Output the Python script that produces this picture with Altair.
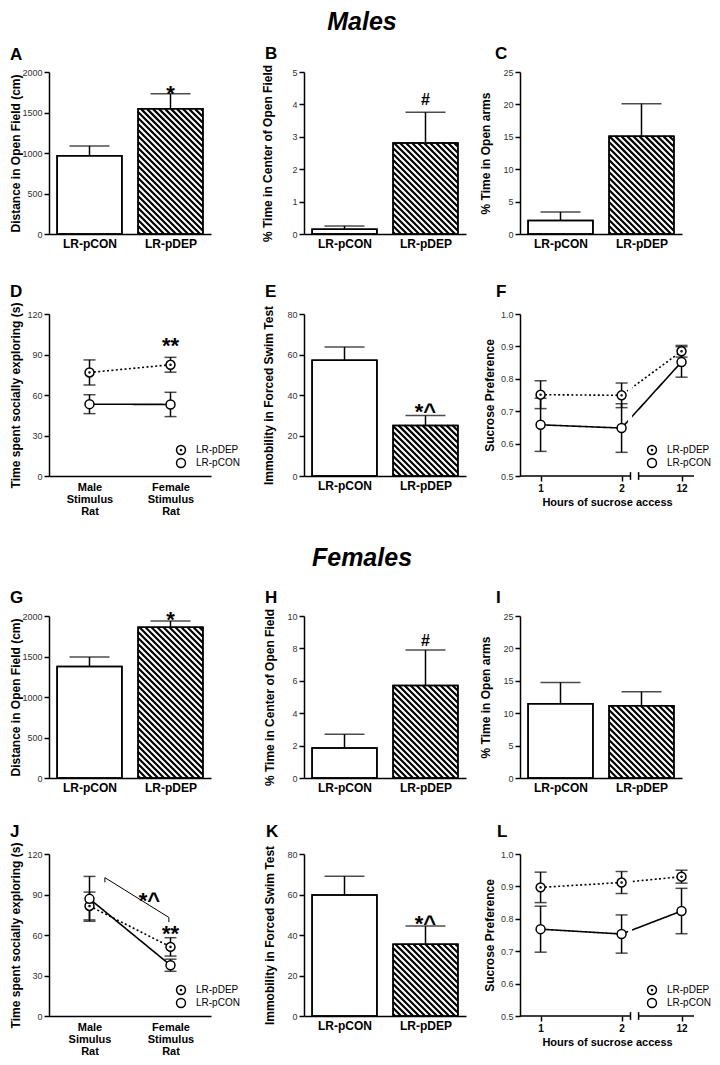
import json
import altair as alt
import pandas as pd

FONT = "Liberation Sans"

# ---------------- data ----------------
groups = ["LR-pCON", "LR-pDEP"]
legend_order = ["LR-pDEP", "LR-pCON"]

# Males
A_mean = [965, 1545]
A_sem = [122, 185]
B_mean = [0.15, 2.81]
B_sem = [0.10, 0.95]
C_mean = [2.1, 15.1]
C_sem = [1.3, 5.0]
E_mean = [57.1, 25.0]
E_sem = [6.6, 4.9]
# Females
G_mean = [1377, 1860]
G_sem = [116, 79]
H_mean = [1.85, 5.71]
H_sem = [0.85, 2.19]
I_mean = [11.45, 11.15]
I_sem = [3.3, 2.15]
K_mean = [59.8, 35.4]
K_sem = [9.2, 9.0]

# social exploration
stim_males = ["Male Stimulus Rat", "Female Stimulus Rat"]
stim_females = ["Male Simulus Rat", "Female Stimulus Rat"]
D_dep_mean = [76.7, 82.4]
D_dep_sem = [9.3, 5.5]
D_con_mean = [53.2, 53.0]
D_con_sem = [7.0, 9.0]
J_dep_mean = [81.5, 51.2]
J_dep_sem = [10.3, 6.8]
J_con_mean = [86.8, 37.6]
J_con_sem = [16.6, 4.5]
J_bracket_x = [0.69, 1.48]
J_bracket_y = [102.5, 73.0]

# sucrose preference
hours = [1, 2, 12]
F_dep_mean = [0.751, 0.749, 0.885]
F_dep_sem = [0.043, 0.038, 0.018]
F_con_mean = [0.658, 0.648, 0.852]
F_con_sem = [0.082, 0.075, 0.047]
L_dep_mean = [0.897, 0.912, 0.930]
L_dep_sem = [0.047, 0.034, 0.020]
L_con_mean = [0.768, 0.753, 0.824]
L_con_sem = [0.071, 0.059, 0.070]

# ---------------- layout constants ----------------
PW, PH = 162, 162
FW = 174
BAR_POS = [0.5, 1.5]
BAR_HALF = 0.4
HOUR_POS = {1: 1.0, 2: 2.0, 12: 2.74}
F_DOMAIN = [0.746, 2.894]
BREAK = [2.11, 2.21]
DOT = ("M1,0A1,1,0,1,1,-1,0A1,1,0,1,1,1,0Z "
       "M0.12,0A0.12,0.12,0,1,1,-0.12,0A0.12,0.12,0,1,1,0.12,0Z")
SHAPES = {"LR-pDEP": DOT, "LR-pCON": "circle"}
DASHES = {"LR-pDEP": [2, 2.4], "LR-pCON": [1, 0]}
PT_SIZE = 80
TITLE_SIZE = 12
LEG_POS = (132, 136)


def axis_y(title, ymin, ymax, step, fmt, tx):
    n = int(round((ymax - ymin) / step))
    vals = [round(ymin + i * step, 6) for i in range(n + 1)]
    return alt.Axis(title=title, values=vals, format=fmt, grid=False,
                    domainColor="black", domainWidth=1.5, tickColor="black",
                    tickWidth=1.5, tickSize=5, labelFont=FONT, labelFontSize=9,
                    labelColor="#333333", labelPadding=2, titleFont=FONT,
                    titleFontSize=TITLE_SIZE, titleFontWeight="bold", titleColor="black",
                    titleX=tx, titleBaseline="top")


def letter_layer(letter, lx, ly):
    return alt.Chart(pd.DataFrame({"t": [letter]})).mark_text(
        font=FONT, fontSize=17, fontWeight="bold", align="left",
        baseline="alphabetic", color="black"
    ).encode(text="t:N", x=alt.value(lx), y=alt.value(ly))


def sig_layer(text, x, y, dy, size, X, Y):
    df = pd.DataFrame({"t": [text], "x": [x], "y": [y]})
    return alt.Chart(df).mark_text(
        font=FONT, fontSize=size, fontWeight="bold", align="center",
        baseline="alphabetic", dy=dy, color="black"
    ).encode(text="t:N", x=X("x"), y=Y("y"))


def hatch_df(means, ymax, period=6.0):
    ux = PW / 2.0
    uy = PH / ymax
    cx = BAR_POS[1]
    m = means[1]
    xa = (cx - BAR_HALF) * ux
    xb = (cx + BAR_HALF) * ux
    t = m * uy
    rows = []
    c = xa + 2.0
    while c < xb + t:
        xs_ = max(xa, c - t)
        xe_ = min(xb, c)
        if xe_ > xs_:
            rows.append({"hx": xs_ / ux, "hx2": xe_ / ux,
                         "hy": (c - xs_) / uy, "hy2": (c - xe_) / uy})
        c += period
    return pd.DataFrame(rows)


def bar_panel(letter, means, sems, ymax, step, ytitle, tx, lx, ly, sigs):
    xs = alt.Scale(domain=[0, 2], nice=False, zero=False)
    ys = alt.Scale(domain=[0, ymax], nice=False, zero=False)
    expr = "datum.value < 1 ? '%s' : '%s'" % (groups[0], groups[1])
    xa = alt.Axis(title=None, values=BAR_POS, labelExpr=expr, ticks=False, grid=False,
                  domainColor="black", domainWidth=1.5, labelFont=FONT, labelFontSize=12,
                  labelFontWeight="bold", labelColor="black", labelPadding=4,
                  labelFlush=False)
    ya = axis_y(ytitle, 0, ymax, step, "d", tx)

    def X(f):
        return alt.X(f, type="quantitative", scale=xs, axis=xa)

    def Y(f):
        return alt.Y(f, type="quantitative", scale=ys, axis=ya)

    df = pd.DataFrame({
        "group": groups, "x": BAR_POS,
        "xl": [p - BAR_HALF for p in BAR_POS], "xr": [p + BAR_HALF for p in BAR_POS],
        "base": [0, 0], "mean": means, "hi": [m + s for m, s in zip(means, sems)],
    })
    err = alt.Chart(df).mark_rule(color="black", strokeWidth=1.5).encode(
        x=X("x"), y=Y("mean"), y2="hi:Q")
    bars = alt.Chart(df).mark_rect(fill="white", stroke="black", strokeWidth=1.5).encode(
        x=X("xl"), x2="xr:Q", y=Y("base"), y2="mean:Q")
    hat = alt.Chart(hatch_df(means, ymax)).mark_rule(
        color="black", strokeWidth=2.2, strokeCap="butt").encode(
        x=X("hx"), x2="hx2:Q", y=Y("hy"), y2="hy2:Q")
    outline = alt.Chart(df).mark_rect(fillOpacity=0, stroke="black", strokeWidth=1.5).encode(
        x=X("xl"), x2="xr:Q", y=Y("base"), y2="mean:Q")
    caps = alt.Chart(df).mark_tick(orient="horizontal", size=40, thickness=1.5,
                                   color="black").encode(x=X("x"), y=Y("hi"))
    layers = [err, bars, hat, outline, caps]
    for (txt, gi, dy, size) in sigs:
        layers.append(sig_layer(txt, BAR_POS[gi], means[gi] + sems[gi], dy, size, X, Y))
    layers.append(letter_layer(letter, lx, ly))
    return alt.layer(*layers).properties(width=PW, height=PH)


def line_df(xpos, dep_mean, dep_sem, con_mean, con_sem):
    rows = []
    for g, ms, ss in [("LR-pDEP", dep_mean, dep_sem), ("LR-pCON", con_mean, con_sem)]:
        for x, m, s in zip(xpos, ms, ss):
            rows.append({"group": g, "x": x, "mean": m, "lo": m - s, "hi": m + s})
    return pd.DataFrame(rows)


def legend_layers(sx, sy, row=13):
    out = []
    for i, g in enumerate(legend_order):
        d = pd.DataFrame({"g": [g]})
        out.append(alt.Chart(d).mark_point(
            shape=SHAPES[g], filled=True, fill="white", stroke="black", strokeWidth=1.5,
            size=PT_SIZE, opacity=1).encode(x=alt.value(sx), y=alt.value(sy + i * row)))
        out.append(alt.Chart(d).mark_text(
            font=FONT, fontSize=10, align="left", baseline="middle", color="black"
        ).encode(text="g:N", x=alt.value(sx + 15), y=alt.value(sy + i * row)))
    return out


def line_panel(letter, df, xs, xa, ys, ya, width, lx, ly, extra_before=None,
               extra_after=None):
    def X(f):
        return alt.X(f, type="quantitative", scale=xs, axis=xa)

    def Y(f):
        return alt.Y(f, type="quantitative", scale=ys, axis=ya)

    caps_df = pd.concat([df.assign(c=df["lo"]), df.assign(c=df["hi"])])
    err = alt.Chart(df).mark_rule(color="black", strokeWidth=1.5).encode(
        x=X("x"), y=Y("lo"), y2="hi:Q")
    caps = alt.Chart(caps_df).mark_tick(orient="horizontal", size=12, thickness=1.5,
                                        color="black").encode(x=X("x"), y=Y("c"))
    lines = []
    for g in legend_order:
        sub = df[df["group"] == g]
        lines.append(alt.Chart(sub).mark_line(color="black", strokeWidth=1.6,
                                              strokeDash=DASHES[g]).encode(
            x=X("x"), y=Y("mean")))
    pts = alt.Chart(df).mark_point(filled=True, fill="white", stroke="black",
                                   strokeWidth=1.5, size=PT_SIZE, opacity=1).encode(
        x=X("x"), y=Y("mean"),
        shape=alt.Shape("group:N", scale=alt.Scale(domain=legend_order,
                                                   range=[SHAPES[g] for g in legend_order]),
                        legend=None))
    layers = list(lines)
    if extra_before:
        layers += extra_before(X, Y)
    layers += [err, caps, pts]
    if extra_after:
        layers += extra_after(X, Y)
    layers += legend_layers(*LEG_POS)
    layers.append(letter_layer(letter, lx, ly))
    return alt.layer(*layers).properties(width=width, height=PH)


def social_panel(letter, stim, dep_mean, dep_sem, con_mean, con_sem, tx, lx, ly, extra):
    df = line_df(BAR_POS, dep_mean, dep_sem, con_mean, con_sem)
    parts0 = json.dumps(stim[0].split(" ")).replace('"', "'")
    parts1 = json.dumps(stim[1].split(" ")).replace('"', "'")
    xs = alt.Scale(domain=[0, 2], nice=False, zero=False)
    xa = alt.Axis(title=None, values=BAR_POS,
                  labelExpr="datum.value < 1 ? %s : %s" % (parts0, parts1),
                  ticks=False, grid=False, domainColor="black", domainWidth=1.5,
                  labelFont=FONT, labelFontSize=11, labelFontWeight="bold",
                  labelColor="black", labelPadding=5, labelLineHeight=12, labelFlush=False)
    ys = alt.Scale(domain=[0, 120], nice=False, zero=False)
    ya = axis_y("Time spent socially exploring (s)", 0, 120, 30, "d", tx)
    return line_panel(letter, df, xs, xa, ys, ya, PW, lx, ly, extra_after=extra)


def sucrose_panel(letter, dep_mean, dep_sem, con_mean, con_sem, lx, ly):
    xpos = [HOUR_POS[h] for h in hours]
    df = line_df(xpos, dep_mean, dep_sem, con_mean, con_sem)
    expr = " : ".join("datum.value < %s ? '%s'" % ((xpos[i] + xpos[i + 1]) / 2, hours[i])
                      for i in range(len(hours) - 1)) + " : '%s'" % hours[-1]
    xs = alt.Scale(domain=F_DOMAIN, nice=False, zero=False)
    xa = alt.Axis(title="Hours of sucrose access", values=xpos, labelExpr=expr,
                  domain=False, grid=False, ticks=True, tickColor="black", tickWidth=1.5,
                  tickSize=5, labelFont=FONT, labelFontSize=10, labelFontWeight="bold",
                  labelColor="black", labelPadding=2, labelFlush=False, titleFont=FONT,
                  titleFontSize=11, titleFontWeight="bold", titleColor="black",
                  titlePadding=3)
    ys = alt.Scale(domain=[0.5, 1.0], nice=False, zero=False)
    ya = axis_y("Sucrose Preference", 0.5, 1.0, 0.1, ".1f", -36)

    def before(X, Y):
        mask = pd.DataFrame({"a": [BREAK[0] - 0.03], "b": [BREAK[0] + 0.02],
                             "lo": [0.5], "hi": [1.0]})
        return [alt.Chart(mask).mark_rect(fill="white").encode(
            x=X("a"), x2="b:Q", y=Y("lo"), y2="hi:Q")]

    def after(X, Y):
        seg = pd.DataFrame({"a": [F_DOMAIN[0], BREAK[1]], "b": [BREAK[0], F_DOMAIN[1]],
                            "y": [0.5, 0.5]})
        brk = pd.DataFrame({"a": BREAK, "lo": [0.488, 0.488], "hi": [0.512, 0.512]})
        return [
            alt.Chart(seg).mark_rule(color="black", strokeWidth=1.5).encode(
                x=X("a"), x2="b:Q", y=Y("y")),
            alt.Chart(brk).mark_rule(color="black", strokeWidth=1.5).encode(
                x=X("a"), y=Y("lo"), y2="hi:Q"),
        ]

    return line_panel(letter, df, xs, xa, ys, ya, FW, lx, ly,
                      extra_before=before, extra_after=after)


def j_extra(X, Y):
    diag = pd.DataFrame({"x": [J_bracket_x[0]], "x2": [J_bracket_x[1]],
                         "y": [J_bracket_y[0]], "y2": [J_bracket_y[1]]})
    ends = pd.DataFrame({"x": J_bracket_x, "y": J_bracket_y,
                         "y2": [v - 3.5 for v in J_bracket_y]})
    return [
        alt.Chart(diag).mark_rule(color="black", strokeWidth=1).encode(
            x=X("x"), x2="x2:Q", y=Y("y"), y2="y2:Q"),
        alt.Chart(ends).mark_rule(color="black", strokeWidth=1).encode(
            x=X("x"), y=Y("y"), y2="y2:Q"),
        sig_layer("*^", 1.24, 80.0, 0, 22, X, Y),
        sig_layer("**", BAR_POS[1], J_dep_mean[1] + J_dep_sem[1], 3.5, 22, X, Y),
    ]


def d_extra(X, Y):
    return [sig_layer("**", BAR_POS[1], D_dep_mean[1] + D_dep_sem[1], -4.5, 22, X, Y)]


def spacer(w, h, text="", tx=0, ty=0, baseline="top"):
    return alt.Chart(pd.DataFrame({"t": [text]})).mark_text(
        font=FONT, fontSize=25, fontWeight="bold", fontStyle="italic", align="center",
        baseline=baseline, color="black"
    ).encode(text="t:N", x=alt.value(tx), y=alt.value(ty)).properties(width=w, height=h)


# ---------------- panels ----------------
C0T = -39  # first column: title / letter offset (page left edge)
pA = bar_panel("A", A_mean, A_sem, 2000, 500, "Distance in Open Field (cm)", C0T, C0T, -12,
               [("*", 1, 7.5, 22)])
pB = bar_panel("B", B_mean, B_sem, 5, 1, "% Time in Center of Open Field", -42, -39, -13,
               [("#", 1, -7.5, 16)])
pC = bar_panel("C", C_mean, C_sem, 25, 5, "% Time in Open arms", -40, -25, -13, [])
pD = social_panel("D", stim_males, D_dep_mean, D_dep_sem, D_con_mean, D_con_sem, C0T, C0T,
                  -17, d_extra)
pE = bar_panel("E", E_mean, E_sem, 80, 20, "Immobility in Forced  Swim Test", -41, -39, -17,
               [("*^", 1, 4, 22)])
pF = sucrose_panel("F", F_dep_mean, F_dep_sem, F_con_mean, F_con_sem, -24, -17)
pG = bar_panel("G", G_mean, G_sem, 2000, 500, "Distance in Open Field (cm)", C0T, C0T, -13,
               [("*", 1, 6, 22)])
pH = bar_panel("H", H_mean, H_sem, 10, 2, "% Time in Center of Open Field", -40, -39, -13,
               [("#", 1, -3.7, 16)])
pI = bar_panel("I", I_mean, I_sem, 25, 5, "% Time in Open arms", -40, -24, -13, [])
pJ = social_panel("J", stim_females, J_dep_mean, J_dep_sem, J_con_mean, J_con_sem, C0T, C0T,
                  -17, j_extra)
pK = bar_panel("K", K_mean, K_sem, 80, 20, "Immobility in Forced  Swim Test", -40, -38, -17,
               [("*^", 1, 5, 22)])
pL = sucrose_panel("L", L_dep_mean, L_dep_sem, L_con_mean, L_con_sem, -23, -17)

COLS = [PW, 93, PW, 54, FW]


def spacer_row(h, mid_text="", ty=0, baseline="top"):
    cells = []
    for i, w in enumerate(COLS):
        if i == 2 and mid_text:
            cells.append(spacer(w, h, mid_text, 58, ty, baseline))
        else:
            cells.append(spacer(w, h))
    return cells


cells = []
cells += spacer_row(64, "Males", 2, "top")
cells += [pA, spacer(COLS[1], PH), pB, spacer(COLS[3], PH), pC]
cells += spacer_row(80)
cells += [pD, spacer(COLS[1], PH), pE, spacer(COLS[3], PH), pF]
cells += spacer_row(140, "Females", 90, "alphabetic")
cells += [pG, spacer(COLS[1], PH), pH, spacer(COLS[3], PH), pI]
cells += spacer_row(76)
cells += [pJ, spacer(COLS[1], PH), pK, spacer(COLS[3], PH), pL]

chart = alt.concat(*cells, columns=5, spacing=0, bounds="flush", align="each").resolve_scale(
    shape="independent"
).properties(padding=0).configure_view(strokeWidth=0)

chart.save("out.html", embed_options={"renderer": "svg", "actions": False})
